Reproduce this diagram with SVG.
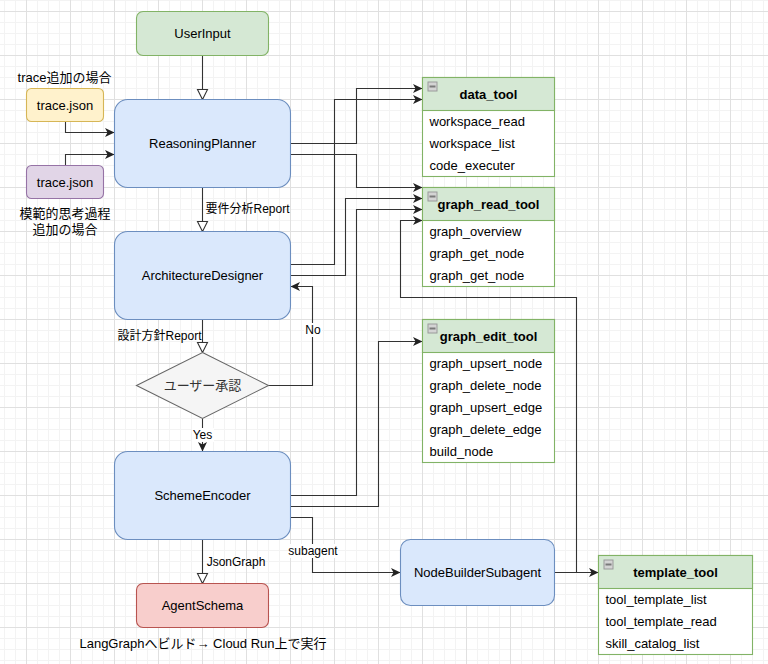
<svg xmlns="http://www.w3.org/2000/svg" width="768" height="664" viewBox="0 0 768 664">
<style>
text{font-family:"Liberation Sans","Noto Sans CJK JP",sans-serif;font-size:13px;fill:#000}
.c{text-anchor:middle}
.b{font-weight:bold}
.el{font-size:12px}
.edge{fill:none;stroke:#333;stroke-width:1.1}
.blue{fill:#dae8fc;stroke:#6c8ebf;stroke-width:1.1}
.green{fill:#d5e8d4;stroke:#82b366;stroke-width:1.1}
.body{fill:#fff;stroke:#82b366;stroke-width:1.1}
.yellow{fill:#fff2cc;stroke:#d6b656;stroke-width:1.1}
.purple{fill:#e1d5e7;stroke:#9673a6;stroke-width:1.1}
.red{fill:#f8cecc;stroke:#b85450;stroke-width:1.1}
.gray{fill:#f5f5f5;stroke:#666;stroke-width:1.1}
.lbg{fill:#fff}
</style>
<defs>
<pattern id="grid" x="26" y="11" width="44" height="44" patternUnits="userSpaceOnUse">
<path d="M11.5,0V44M22.5,0V44M33.5,0V44M0,11.5H44M0,22.5H44M0,33.5H44" stroke="#f3f3f3" stroke-width="1" fill="none"/>
<path d="M0.5,0V44M0,0.5H44" stroke="#e0e0e0" stroke-width="1" fill="none"/>
</pattern>
<marker id="arr" markerUnits="userSpaceOnUse" markerWidth="12" markerHeight="12" refX="9.5" refY="4.5" orient="auto" overflow="visible">
<path d="M0,0L9.5,4.5L0,9L2.5,4.5Z" fill="#222"/>
</marker>
<marker id="tri" markerUnits="userSpaceOnUse" markerWidth="12" markerHeight="12" refX="10.5" refY="5.5" orient="auto" overflow="visible">
<path d="M0.5,0.5L10.5,5.5L0.5,10.5Z" fill="#fff" stroke="#333" stroke-width="1.1"/>
</marker>
<g id="minus">
<rect x="0.5" y="0.5" width="9" height="9" fill="#d4d4d4" stroke="#9a9a9a" stroke-width="1"/>
<rect x="2" y="4" width="6" height="2" fill="#7a7a7a"/>
</g>
</defs>
<rect x="0" y="0" width="768" height="664" fill="#fff"/>
<rect x="0" y="0" width="768" height="664" fill="url(#grid)"/>

<g id="connectors">
<path class="edge" d="M202.5,55.5V99.5" marker-end="url(#tri)"/>
<path class="edge" d="M65.5,121.5V132.5H114.5" marker-end="url(#arr)"/>
<path class="edge" d="M65.5,165.5V154.5H114.5" marker-end="url(#arr)"/>
<path class="edge" d="M202.5,187.5V231.5" marker-end="url(#tri)"/>
<path class="edge" d="M202.5,319.5V352.5" marker-end="url(#tri)"/>
<path class="edge" d="M202.5,418.5V451.5" marker-end="url(#arr)"/>
<path class="edge" d="M268.5,385.5H312.5V286.5H290.5" marker-end="url(#arr)"/>
<path class="edge" d="M202.5,539.5V583.5" marker-end="url(#tri)"/>
<path class="edge" d="M290.5,517.5H312.5V572.5H400.5" marker-end="url(#arr)"/>
<path class="edge" d="M554.5,572.5H598.5" marker-end="url(#arr)"/>
<path class="edge" d="M554.5,572.5H576.5V297.5H400.5V220.5H422.5" marker-end="url(#arr)"/>
<path class="edge" d="M290.5,143.5H356.5V88.5H422.5" marker-end="url(#arr)"/>
<path class="edge" d="M290.5,154.5H356.5V187.5H422.5" marker-end="url(#arr)"/>
<path class="edge" d="M290.5,264.5H334.5V99.5H422.5" marker-end="url(#arr)"/>
<path class="edge" d="M290.5,275.5H345.5V198.5H422.5" marker-end="url(#arr)"/>
<path class="edge" d="M290.5,495.5H356.5V209.5H422.5" marker-end="url(#arr)"/>
<path class="edge" d="M290.5,506.5H378.5V341.5H422.5" marker-end="url(#arr)"/>
<text class="c el" x="247.5" y="213.2">要件分析Report</text>
<text class="c el" x="159.5" y="340.2">設計方針Report</text>
<rect class="lbg" x="192" y="428" width="22" height="14"/>
<text class="c el" x="202.5" y="439.2">Yes</text>
<rect class="lbg" x="304" y="323" width="18" height="14"/>
<text class="c el" x="313" y="334.2">No</text>
<text class="c el" x="236" y="566.2">JsonGraph</text>
<rect class="lbg" x="288" y="544" width="50" height="14"/>
<text class="c el" x="313" y="555.2">subagent</text>
</g>

<g id="UserInput">
<rect class="green" x="136.5" y="11.5" width="132" height="44" rx="6.6"/>
<text class="c" x="202.5" y="38">UserInput</text>
</g>
<g id="traceLabel1">
<text class="c" x="64.5" y="82">trace追加の場合</text>
</g>
<g id="traceYellow">
<rect class="yellow" x="26.5" y="88.5" width="77" height="33" rx="5"/>
<text class="c" x="65" y="109.5">trace.json</text>
</g>
<g id="tracePurple">
<rect class="purple" x="26.5" y="165.5" width="77" height="33" rx="5"/>
<text class="c" x="65" y="186.5">trace.json</text>
</g>
<g id="traceLabel2">
<text class="c" x="65" y="217.5">模範的思考過程</text>
<text class="c" x="65" y="234">追加の場合</text>
</g>
<g id="ReasoningPlanner">
<rect class="blue" x="114.5" y="99.5" width="176" height="88" rx="13.2"/>
<text class="c" x="202.5" y="148">ReasoningPlanner</text>
</g>
<g id="ArchitectureDesigner">
<rect class="blue" x="114.5" y="231.5" width="176" height="88" rx="13.2"/>
<text class="c" x="202.5" y="280">ArchitectureDesigner</text>
</g>
<g id="UserApproval">
<path class="gray" d="M202.5,352.5L268.5,385.5L202.5,418.5L136.5,385.5Z"/>
<text class="c" x="202.5" y="390" style="fill:#333">ユーザー承認</text>
</g>
<g id="SchemeEncoder">
<rect class="blue" x="114.5" y="451.5" width="176" height="88" rx="13.2"/>
<text class="c" x="202.5" y="500">SchemeEncoder</text>
</g>
<g id="AgentSchema">
<rect class="red" x="136.5" y="583.5" width="132" height="44" rx="6.6"/>
<text class="c" x="202.5" y="610">AgentSchema</text>
</g>
<g id="buildLabel">
<text class="c" x="203" y="647.8">LangGraphへビルド→ Cloud Run上で実行</text>
</g>
<g id="NodeBuilderSubagent">
<rect class="blue" x="400.5" y="539.5" width="154" height="66" rx="9.9"/>
<text class="c" x="477.5" y="577">NodeBuilderSubagent</text>
</g>

<g id="data_tool">
<rect class="body" x="422.5" y="77.5" width="132" height="99"/>
<rect class="green" x="422.5" y="77.5" width="132" height="33"/>
<use href="#minus" x="427.5" y="81.5"/>
<text class="c b" x="488.5" y="98.5">data_tool</text>
<text x="429.5" y="125.5">workspace_read</text>
<text x="429.5" y="147.5">workspace_list</text>
<text x="429.5" y="169.5">code_executer</text>
</g>
<g id="graph_read_tool">
<rect class="body" x="422.5" y="187.5" width="132" height="99"/>
<rect class="green" x="422.5" y="187.5" width="132" height="33"/>
<use href="#minus" x="427.5" y="191.5"/>
<text class="c b" x="488.5" y="208.5">graph_read_tool</text>
<text x="429.5" y="235.5">graph_overview</text>
<text x="429.5" y="257.5">graph_get_node</text>
<text x="429.5" y="279.5">graph_get_node</text>
</g>
<g id="graph_edit_tool">
<rect class="body" x="422.5" y="319.5" width="132" height="143"/>
<rect class="green" x="422.5" y="319.5" width="132" height="33"/>
<use href="#minus" x="427.5" y="323.5"/>
<text class="c b" x="488.5" y="340.5">graph_edit_tool</text>
<text x="429.5" y="367.5">graph_upsert_node</text>
<text x="429.5" y="389.5">graph_delete_node</text>
<text x="429.5" y="411.5">graph_upsert_edge</text>
<text x="429.5" y="433.5">graph_delete_edge</text>
<text x="429.5" y="455.5">build_node</text>
</g>
<g id="template_tool">
<rect class="body" x="598.5" y="555.5" width="154" height="99"/>
<rect class="green" x="598.5" y="555.5" width="154" height="33"/>
<use href="#minus" x="603.5" y="559.5"/>
<text class="c b" x="675.5" y="576.5">template_tool</text>
<text x="605.5" y="603.5">tool_template_list</text>
<text x="605.5" y="625.5">tool_template_read</text>
<text x="605.5" y="647.5">skill_catalog_list</text>
</g>
</svg>
